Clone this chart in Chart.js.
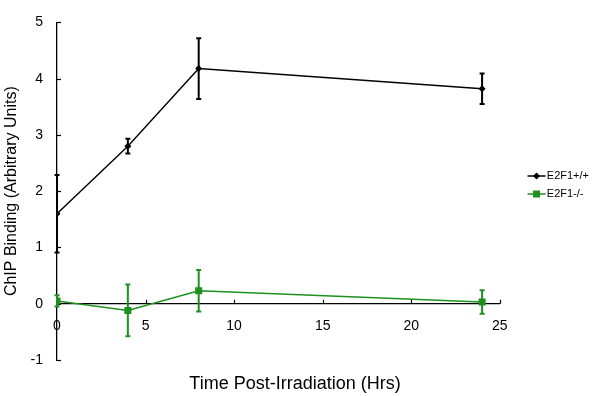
<!DOCTYPE html>
<html><head><meta charset="utf-8">
<script src="https://cdn.jsdelivr.net/npm/chart.js@4"></script>
<style>html,body{margin:0;padding:0;background:#fff;}#wrap{width:602px;height:396px;}</style>
</head><body><div id="wrap"><canvas id="c" width="602" height="396"></canvas></div>
<script>
const timeHrs = [0, 4, 8, 24];
const wtMean = [1.6, 2.8, 4.18, 3.82];
const wtErr = [0.69, 0.13, 0.54, 0.27];
const koMean = [0.05, -0.12, 0.23, 0.03];
const koErr = [0.1, 0.46, 0.37, 0.21];
const seriesNames = ['E2F1+/+', 'E2F1-/-'];
const xTickValues = [0, 5, 10, 15, 20, 25];
const yTickValues = [-1, 0, 1, 2, 3, 4, 5];
const xTitle = 'Time Post-Irradiation (Hrs)';
const yTitle = 'ChIP Binding (Arbitrary Units)';

const BLACK = '#000000';
const GREEN = '#1e901e';
const FONT = "'Liberation Sans', Arial, sans-serif";
const errArrays = [wtErr, koErr];

function makeIcon(color, style) {
  const c = document.createElement('canvas');
  c.width = 44; c.height = 12;
  const g = c.getContext('2d');
  g.strokeStyle = color; g.fillStyle = color; g.lineWidth = 1.5;
  g.beginPath(); g.moveTo(25.5, 6); g.lineTo(43.5, 6); g.stroke();
  const cx = 34.5, cy = 6;
  g.beginPath();
  if (style === 'diamond') {
    g.moveTo(cx - 3.5, cy); g.lineTo(cx, cy - 3.5); g.lineTo(cx + 3.5, cy); g.lineTo(cx, cy + 3.5); g.closePath();
  } else {
    g.rect(cx - 3.5, cy - 3.5, 7, 7);
  }
  g.fill();
  return c;
}
const legendIcons = [makeIcon(BLACK, 'diamond'), makeIcon(GREEN, 'square')];

const extras = {
  id: 'extras',
  beforeDatasetsDraw(chart) {
    const ctx = chart.ctx, xs = chart.scales.x, ys = chart.scales.y;
    const y0 = ys.getPixelForValue(0), x0 = xs.getPixelForValue(0);
    ctx.save();
    ctx.strokeStyle = BLACK; ctx.lineWidth = 1.2;
    xTickValues.forEach(v => {
      if (v === 0) return;
      const px = Math.round(xs.getPixelForValue(v)) + 0.5;
      ctx.beginPath(); ctx.moveTo(px, y0); ctx.lineTo(px, y0 - 4); ctx.stroke();
    });
    yTickValues.forEach(v => {
      const py = Math.round(ys.getPixelForValue(v)) + 0.5;
      ctx.beginPath(); ctx.moveTo(x0, py); ctx.lineTo(x0 + 4, py); ctx.stroke();
    });
    ctx.restore();
  },
  afterDatasetsDraw(chart) {
    const ctx = chart.ctx, xs = chart.scales.x, ys = chart.scales.y;
    ctx.save();
    chart.data.datasets.forEach((ds, di) => {
      const errs = errArrays[di];
      ctx.strokeStyle = ds.borderColor;
      ctx.lineWidth = 2;
      ds.data.forEach((p, i) => {
        const px = xs.getPixelForValue(p.x);
        const top = ys.getPixelForValue(p.y + errs[i]);
        const bot = ys.getPixelForValue(p.y - errs[i]);
        ctx.beginPath();
        ctx.moveTo(px, top); ctx.lineTo(px, bot);
        ctx.moveTo(px - 2.5, top); ctx.lineTo(px + 2.5, top);
        ctx.moveTo(px - 2.5, bot); ctx.lineTo(px + 2.5, bot);
        ctx.stroke();
      });
    });
    ctx.restore();
  },
  afterDraw(chart) {
    const ctx = chart.ctx;
    ctx.save();
    ctx.fillStyle = BLACK;
    ctx.font = "18px " + FONT;
    ctx.textAlign = 'center'; ctx.textBaseline = 'middle';
    ctx.fillText(xTitle, 295, 384);
    ctx.restore();
  }
};

new Chart(document.getElementById('c'), {
  type: 'scatter',
  data: {
    datasets: [
      {
        label: seriesNames[0],
        data: timeHrs.map((x, i) => ({ x, y: wtMean[i] })),
        showLine: true, borderColor: BLACK, backgroundColor: BLACK, borderWidth: 1.4,
        pointStyle: 'rectRot', pointRadius: 3.5, pointBorderWidth: 0, tension: 0
      },
      {
        label: seriesNames[1],
        data: timeHrs.map((x, i) => ({ x, y: koMean[i] })),
        showLine: true, borderColor: GREEN, backgroundColor: GREEN, borderWidth: 1.5,
        pointStyle: 'rect', pointRadius: 5, pointBorderWidth: 0, tension: 0
      }
    ]
  },
  options: {
    responsive: false, animation: false, devicePixelRatio: 1,
    layout: { padding: { left: 0, top: 10, bottom: 36, right: 3 } },
    scales: {
      x: {
        type: 'linear', min: 0, max: 25, position: { y: 0 },
        afterBuildTicks: s => { s.ticks = xTickValues.map(v => ({ value: v })); },
        ticks: { color: BLACK, font: { family: FONT, size: 14 }, padding: 14, maxRotation: 0 },
        grid: { display: false, drawTicks: false },
        border: { display: true, color: BLACK, width: 1.3 }
      },
      y: {
        type: 'linear', min: -1, max: 5, position: 'left',
        afterBuildTicks: s => { s.ticks = yTickValues.map(v => ({ value: v })); },
        afterFit: s => { s.width = 57; },
        ticks: { color: BLACK, font: { family: FONT, size: 14 }, padding: 14 },
        grid: { display: false, drawTicks: false },
        border: { display: true, color: BLACK, width: 1.3 },
        title: { display: true, text: yTitle, color: BLACK, font: { family: FONT, size: 16 }, padding: { top: 2.4, bottom: 0 } }
      }
    },
    plugins: {
      tooltip: { enabled: false },
      legend: {
        position: 'right',
        labels: {
          usePointStyle: true, pointStyleWidth: 34.5, padding: 7,
          color: BLACK, font: { family: FONT, size: 11 },
          generateLabels: chart => chart.data.datasets.map((ds, i) => ({
            text: ds.label, pointStyle: legendIcons[i], fillStyle: ds.borderColor,
            strokeStyle: ds.borderColor, lineWidth: 0, hidden: false, datasetIndex: i, fontColor: BLACK
          }))
        }
      }
    }
  },
  plugins: [extras]
});
</script></body></html>
